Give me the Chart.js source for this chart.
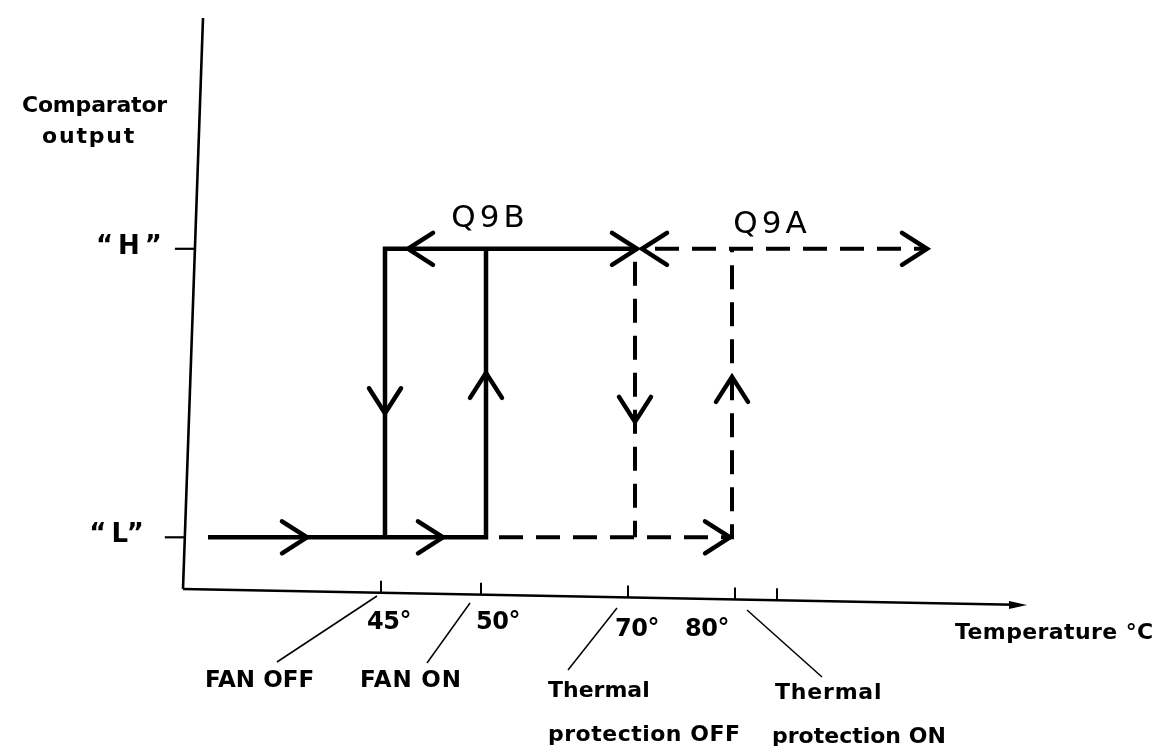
<!DOCTYPE html>
<html>
<head>
<meta charset="utf-8">
<script src="https://cdn.jsdelivr.net/npm/chart.js@4/dist/chart.umd.min.js"></script>
<style>
  html, body { margin: 0; padding: 0; background: #fff; }
  #wrap { width: 1172px; height: 746px; }
</style>
</head>
<body>
<div id="wrap"><canvas id="chart" width="1172" height="746"></canvas></div>
<script>
// x = schematic temperature position (axis not to scale), y = comparator output level
const levelValues = [1, 6];
const levelLabels = ['\u201CL\u201D', '\u201CH\u201D'];
const tickValues = [19.8, 29.8, 44.5, 55.2, 59.4];
const tickLabels = ['45°', '50°', '70°', '80°', ''];
const eventLabels = [['FAN OFF'], ['FAN ON'], ['Thermal', 'protection OFF'], ['Thermal', 'protection ON']];
const seriesNames = ['Q9B', 'Q9A'];

// Q9B (solid) paths
const q9bRise = [{ x: 2.5, y: 1 }, { x: 30.3, y: 1 }, { x: 30.3, y: 6 }];
const q9bFall = [{ x: 45.4, y: 6 }, { x: 20.2, y: 6 }, { x: 20.2, y: 1 }];
// Q9A (dashed) paths
const q9aRise = [{ x: 30.3, y: 1 }, { x: 54.9, y: 1 }, { x: 54.9, y: 6 }];
const q9aFall = [{ x: 45.2, y: 6 }, { x: 45.2, y: 1 }];
const q9aHigh = [{ x: 45.9, y: 6 }, { x: 74.4, y: 6 }];

const arrows = [
  { x: 12.4, y: 1, dir: 'right' },
  { x: 26.0, y: 1, dir: 'right' },
  { x: 20.2, y: 3.15, dir: 'down' },
  { x: 30.3, y: 3.85, dir: 'up' },
  { x: 22.5, y: 6, dir: 'left' },
  { x: 45.4, y: 6, dir: 'right' },
  { x: 45.9, y: 6, dir: 'left' },
  { x: 45.2, y: 3.0, dir: 'down' },
  { x: 54.9, y: 3.78, dir: 'up' },
  { x: 54.7, y: 1, dir: 'right' },
  { x: 74.4, y: 6, dir: 'right' },
];

const FONT = '"DejaVu Sans"';

function text(ctx, str, x, y, size, opts = {}) {
  ctx.font = (opts.weight || 'bold') + ' ' + size + 'px ' + FONT;
  ctx.letterSpacing = (opts.spacing || 0) + 'px';
  ctx.textAlign = opts.align || 'left';
  ctx.textBaseline = 'middle';
  ctx.fillText(str, x, y);
}

const diagramPlugin = {
  id: 'diagram',
  beforeDatasetsDraw(chart) {
    const { ctx, chartArea: a, scales: { x, y } } = chart;
    ctx.save();
    ctx.strokeStyle = '#000';
    ctx.fillStyle = '#000';
    ctx.lineCap = 'butt';

    // y axis (slightly leaning, as drawn by hand)
    ctx.lineWidth = 2.6;
    ctx.beginPath();
    ctx.moveTo(a.left, a.bottom - 6);
    ctx.lineTo(a.left + 20, a.top);
    ctx.stroke();

    // x axis, with arrow
    const axY = (px) => a.bottom - 6 + (px - a.left) * 16 / (a.right - a.left);
    ctx.lineWidth = 2.4;
    ctx.beginPath();
    ctx.moveTo(a.left, axY(a.left));
    ctx.lineTo(a.right - 12, axY(a.right - 12));
    ctx.stroke();
    ctx.beginPath();
    ctx.moveTo(a.right, axY(a.right));
    ctx.lineTo(a.right - 18, axY(a.right) - 4);
    ctx.lineTo(a.right - 18, axY(a.right) + 4);
    ctx.closePath();
    ctx.fill();

    // x ticks (pointing up from the axis)
    ctx.lineWidth = 2;
    tickValues.forEach(v => {
      const px = x.getPixelForValue(v);
      ctx.beginPath();
      ctx.moveTo(px, axY(px));
      ctx.lineTo(px, axY(px) - 12);
      ctx.stroke();
    });

    // y level ticks + labels
    ctx.lineWidth = 2.2;
    levelValues.forEach((v, i) => {
      const py = y.getPixelForValue(v);
      const axX = a.left + 20 * (a.bottom - 6 - py) / (a.bottom - 6 - a.top);
      ctx.beginPath();
      ctx.moveTo(axX - 20, py);
      ctx.lineTo(axX, py);
      ctx.stroke();
      text(ctx, levelLabels[i], axX - 24 - (i === 0 ? 12 : 4), py - 2, 26, { align: 'right', spacing: 5 });
    });

    // axis titles
    text(ctx, 'Comparator', 22, 106, 22, { spacing: -0.2 });
    text(ctx, 'output', 42, 137, 22, { spacing: 1.8 });
    text(ctx, 'Temperature °C', 955, 633, 22, { spacing: 0.4 });

    // tick labels
    const tickOffsets = [8, 17, 9, -28];
    tickLabels.forEach((t, i) => {
      if (!t) return;
      const px = x.getPixelForValue(tickValues[i]) + tickOffsets[i];
      text(ctx, t, px, i < 2 ? 623 : 630, 24, { align: 'center', spacing: -0.5 });
    });

    // leader lines from tick labels to event labels
    ctx.lineWidth = 1.5;
    const leaders = [
      [tickValues[0], -4, 596, 277, 662],
      [tickValues[1], -11, 603, 427, 663],
      [tickValues[2], -11, 608, 568, 670],
      [tickValues[3], 12, 610, 822, 677],
    ];
    leaders.forEach(([v, dx, y0, x1, y1]) => {
      ctx.beginPath();
      ctx.moveTo(x.getPixelForValue(v) + dx, y0);
      ctx.lineTo(x1, y1);
      ctx.stroke();
    });

    // event labels
    text(ctx, eventLabels[0][0], 205, 681, 23, { spacing: 0 });
    text(ctx, eventLabels[1][0], 360, 681, 23, { spacing: 0.8 });
    text(ctx, eventLabels[2][0], 548, 691, 22, { spacing: 0 });
    text(ctx, eventLabels[2][1], 548, 735, 22, { spacing: 0.5 });
    text(ctx, eventLabels[3][0], 775, 693, 22, { spacing: 0.8 });
    text(ctx, eventLabels[3][1], 772, 737, 22, { spacing: 0 });

    // series names
    text(ctx, seriesNames[0], 490, 219, 31, { align: 'center', weight: 'normal', spacing: 4 });
    text(ctx, seriesNames[1], 772, 225, 31, { align: 'center', weight: 'normal', spacing: 4 });
    ctx.restore();
  },
  afterDatasetsDraw(chart) {
    const { ctx, scales: { x, y } } = chart;
    const ang = { right: 0, left: Math.PI, up: -Math.PI / 2, down: Math.PI / 2 };
    ctx.save();
    ctx.strokeStyle = '#000';
    ctx.lineWidth = 4.5;
    ctx.lineCap = 'round';
    ctx.lineJoin = 'miter';
    arrows.forEach(p => {
      ctx.save();
      ctx.translate(x.getPixelForValue(p.x), y.getPixelForValue(p.y));
      ctx.rotate(ang[p.dir]);
      ctx.beginPath();
      ctx.moveTo(-25, -16);
      ctx.lineTo(0, 0);
      ctx.lineTo(-25, 16);
      ctx.stroke();
      ctx.restore();
    });
    ctx.restore();
  },
};

const solid = { borderColor: '#000', borderWidth: 4.5, pointRadius: 0, showLine: true, fill: false, tension: 0, borderJoinStyle: 'miter' };
const dashed = { ...solid, borderWidth: 4, borderDash: [24, 13], borderDashOffset: 24 };

new Chart(document.getElementById('chart'), {
  type: 'scatter',
  data: {
    datasets: [
      { label: 'Q9B rise', data: q9bRise, ...solid },
      { label: 'Q9B fall', data: q9bFall, ...solid },
      { label: 'Q9A rise', data: q9aRise, ...dashed },
      { label: 'Q9A fall', data: q9aFall, ...dashed },
      { label: 'Q9A high', data: q9aHigh, ...dashed },
    ],
  },
  options: {
    responsive: false,
    animation: false,
    devicePixelRatio: 1,
    layout: { padding: { left: 183, right: 145, top: 18, bottom: 151 } },
    plugins: { legend: { display: false }, tooltip: { enabled: false } },
    scales: {
      x: { type: 'linear', min: 0, max: 84.4, display: false },
      y: { type: 'linear', min: 0, max: 10, display: false },
    },
  },
  plugins: [diagramPlugin],
});
</script>
</body>
</html>
